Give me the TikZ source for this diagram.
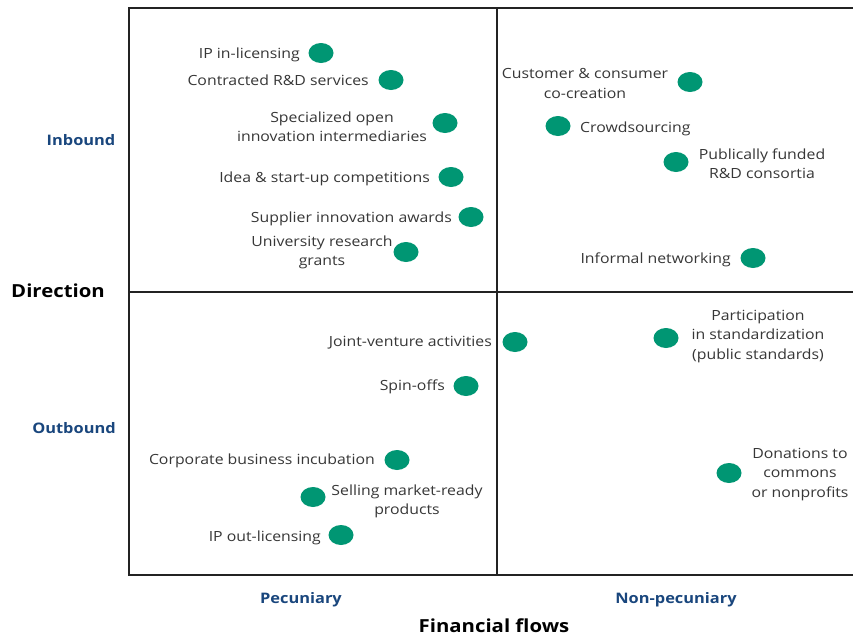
\documentclass[tikz,border=0pt]{standalone}
\usepackage{fontspec}
\setmainfont{Open Sans}[FakeStretch=1.13]
\usetikzlibrary{shapes.geometric}
\definecolor{dotgreen}{RGB}{0,150,115}
\definecolor{axisblue}{RGB}{25,70,125}
\definecolor{txtgray}{RGB}{55,55,55}
\definecolor{framegray}{RGB}{35,35,35}
\begin{document}
\begin{tikzpicture}[x=1pt,y=-1pt,
  dot/.style={ellipse,fill=dotgreen,minimum width=25pt,minimum height=20pt,inner sep=0pt},
  lbl/.style={font=\fontsize{14}{19.3}\selectfont,text=txtgray,inner sep=0pt,align=center,yshift=-1.5pt},
  cat/.style={font=\fontsize{14.5}{16}\selectfont\bfseries,text=axisblue,inner sep=0pt},
  axis/.style={font=\fontsize{18}{20}\selectfont\bfseries,text=black,inner sep=0pt},
  frame/.style={draw=framegray,line width=2.5pt}]
\useasboundingbox (0,0) rectangle (853,637);
\fill[white] (0,0) rectangle (853,637);
% frame
\draw[frame] (853,8) -- (129,8) -- (129,575) -- (853,575);
\draw[frame] (497,8) -- (497,575);
\draw[frame] (129,292) -- (853,292);
% dots
\node[dot] (d1) at (321,53) {};
\node[dot] (d2) at (391,80) {};
\node[dot] (d3) at (445,123) {};
\node[dot] (d4) at (451,177) {};
\node[dot] (d5) at (471,217) {};
\node[dot] (d6) at (406,252) {};
\node[dot] (d7) at (690,82) {};
\node[dot] (d8) at (558,126) {};
\node[dot] (d9) at (676,162) {};
\node[dot] (d10) at (753,258) {};
\node[dot] (d11) at (515,342) {};
\node[dot] (d12) at (666,338) {};
\node[dot] (d13) at (466,386) {};
\node[dot] (d14) at (397,460) {};
\node[dot] (d15) at (729,473) {};
\node[dot] (d16) at (313,497) {};
\node[dot] (d17) at (341,535) {};
% labels
\node[lbl,anchor=east] (l1) at (300,53) {IP in-licensing};
\node[lbl,anchor=east] (l2) at (369,79) {Contracted R\&D services};
\node[lbl] (l3) at (332,125) {Specialized open\\innovation intermediaries};
\node[lbl,anchor=east] (l4) at (430,177) {Idea \& start-up competitions};
\node[lbl,anchor=east] (l5) at (452,217) {Supplier innovation awards};
\node[lbl] (l6) at (322,251) {University research\\grants};
\node[lbl] (l7) at (585,82) {Customer \& consumer\\co-creation};
\node[lbl,anchor=west] (l8) at (580,127) {Crowdsourcing};
\node[lbl] (l9) at (762,162) {Publically funded\\R\&D consortia};
\node[lbl,anchor=east] (l10) at (731,258) {Informal networking};
\node[lbl,anchor=east] (l11) at (492,341) {Joint-venture activities};
\node[lbl] (l12) at (758,335) {Participation\\in standardization\\(public standards)};
\node[lbl,anchor=east] (l13) at (445,385) {Spin-offs};
\node[lbl,anchor=east] (l14) at (375,459) {Corporate business incubation};
\node[lbl] (l15) at (800,473) {Donations to\\commons\\or nonprofits};
\node[lbl] (l16) at (407,500) {Selling market-ready\\products};
\node[lbl,anchor=east] (l17) at (321,536) {IP out-licensing};
% axis labels
\node[cat] (inb) at (81,140) {Inbound};
\node[cat] (outb) at (74,428) {Outbound};
\node[axis] (dir) at (58,291) {Direction};
\node[cat] (pec) at (301,600) {Pecuniary};
\node[cat] (npec) at (676,600) {Non-pecuniary};
\node[axis] (fin) at (494,626) {Financial flows};
\end{tikzpicture}
\end{document}
